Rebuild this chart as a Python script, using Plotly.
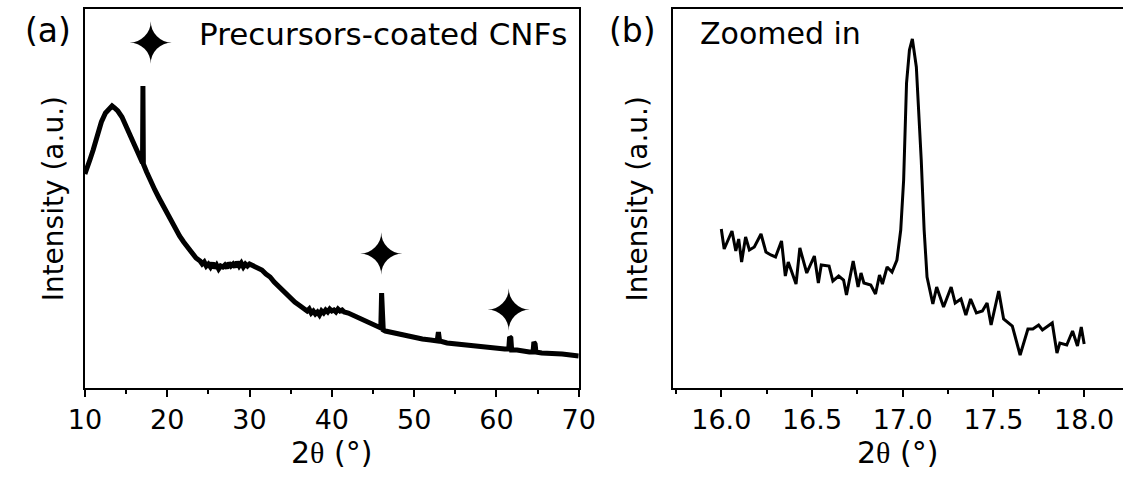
import plotly.graph_objects as go

# ---------------- Panel (a): full XRD pattern ----------------
two_theta_full = [
    10.0, 10.3, 10.6, 11.0, 11.5, 12.0, 12.5, 13.0, 13.3, 13.6, 14.0, 14.5, 15.0, 15.5,
    16.0, 16.5, 16.9, 17.0, 17.05, 17.1, 17.5, 18.0, 18.5, 19.0, 19.5, 20.0, 20.5, 21.0,
    21.5, 22.0, 22.5, 23.0, 23.5, 24.0, 24.25, 24.5, 24.75, 25.0, 25.25, 25.5, 25.75,
    26.0, 26.25, 26.5, 26.75, 27.0, 27.25, 27.5, 27.75, 28.0, 28.25, 28.5, 28.75, 29.0,
    29.25, 29.5, 29.75, 30.0, 30.5, 31.0, 31.5, 32.0, 32.5, 33.0, 33.5, 34.0, 34.5, 35.0,
    35.5, 36.0, 36.5, 37.0, 37.25, 37.5, 37.75, 38.0, 38.25, 38.5, 38.75, 39.0, 39.25,
    39.5, 39.75, 40.0, 40.25, 40.5, 40.75, 41.0, 41.25, 41.5, 42.0, 42.5, 43.0, 43.5,
    44.0, 44.5, 45.0, 45.5, 45.95, 46.05, 46.15, 46.25, 46.5, 47.0,
    47.5, 48.0, 48.5, 49.0, 49.5, 50.0, 51.0, 52.0, 52.8, 52.95, 53.1, 54.0, 55.0, 56.0,
    57.0, 58.0, 59.0, 60.0, 61.0, 61.5, 61.6, 61.75, 61.85, 62.5, 63.0, 64.0, 64.45,
    64.55, 64.7, 64.8, 65.5, 66.0, 67.0, 68.0, 69.0, 70.0,
]
intensity_full = [
    214, 220, 228, 238, 252, 266, 275, 280, 282, 280, 277, 271, 262, 251,
    242, 234, 227, 225, 302, 224, 216, 206, 198, 190, 182, 174, 166, 159,
    152, 146, 140, 135, 130, 127, 124, 126, 122, 124, 121, 125, 120,
    123, 119, 122, 121, 123, 120, 125, 122, 124, 121, 126, 122, 125,
    121, 124, 122, 124, 122, 120, 118, 114, 111, 106, 102, 97, 93, 89,
    86, 83, 80, 77, 79, 75, 77, 74, 76, 73, 77, 75, 78,
    76, 79, 77, 78, 76, 79, 77, 78, 76, 75, 73, 71, 69,
    67, 65, 63, 61, 60, 95, 83, 58, 57, 56,
    55, 54, 53, 52, 51, 50, 49, 48, 47, 56, 47, 45, 44, 43,
    42, 41, 40, 39, 39, 39, 51, 50, 38, 38, 37, 36, 36,
    46, 44, 36, 35, 35, 34, 34, 33, 32,
]

# markers flagging the crystalline reflections
star_x = [18.0, 46.0, 61.5]
star_y = [339, 128, 72]

# ---------------- Panel (b): zoom around 17 degrees ----------------
two_theta_zoom = [
    16.000, 16.016, 16.059, 16.080, 16.096, 16.112, 16.134, 16.155, 16.182, 16.219,
    16.246, 16.273, 16.299, 16.332, 16.353, 16.369, 16.412, 16.433, 16.471, 16.513,
    16.535, 16.551, 16.594, 16.615, 16.647, 16.674, 16.690, 16.727, 16.754, 16.770,
    16.786, 16.824, 16.850, 16.872, 16.888, 16.914, 16.941, 16.968, 16.989, 17.005,
    17.021, 17.037, 17.053, 17.075, 17.102, 17.118, 17.134, 17.166, 17.187, 17.225,
    17.267, 17.289, 17.321, 17.348, 17.374, 17.406, 17.439, 17.465, 17.487, 17.529,
    17.556, 17.604, 17.647, 17.690, 17.717, 17.749, 17.770, 17.824, 17.850, 17.866,
    17.904, 17.936, 17.963, 17.984, 18.000,
]
intensity_zoom = [
    159, 139, 157, 137, 149, 126, 151, 138, 141, 154,
    136, 133, 131, 147, 112, 126, 104, 140, 115, 132,
    105, 123, 122, 107, 112, 108, 93, 127, 101, 115,
    105, 103, 94, 113, 104, 121, 116, 128, 158, 208,
    305, 338, 349, 321, 228, 158, 111, 84, 101, 81,
    101, 85, 89, 73, 89, 75, 77, 85, 63, 97,
    69, 62, 33, 59, 59, 63, 58, 65, 35, 45,
    43, 57, 42, 61, 44,
]

W, H = 1140, 480
FONT = "DejaVu Sans"


def px_x(v):
    return v / W


def px_y(v):
    return 1 - v / H


fig = go.Figure()

fig.add_trace(go.Scatter(
    x=two_theta_full, y=intensity_full, mode="lines",
    line=dict(color="black", width=5), xaxis="x", yaxis="y", showlegend=False,
))
fig.add_trace(go.Scatter(
    x=star_x, y=star_y, mode="text", text=["✦"] * len(star_x),
    textposition="middle center",
    textfont=dict(family=FONT, size=56, color="black"),
    xaxis="x", yaxis="y", showlegend=False,
))
fig.add_trace(go.Scatter(
    x=two_theta_zoom, y=intensity_zoom, mode="lines",
    line=dict(color="black", width=3), xaxis="x2", yaxis="y2", showlegend=False,
))

y_dom = [px_y(388), px_y(9)]
common_x = dict(
    showgrid=False, zeroline=False, showline=True, linecolor="black", linewidth=2,
    ticks="outside", ticklen=7, tickwidth=2, tickcolor="black",
    tickfont=dict(family=FONT, size=27, color="black"),
)
common_y = dict(
    showgrid=False, zeroline=False, showline=True, linecolor="black", linewidth=2,
    showticklabels=False, ticks="", range=[0, 379],
)

fig.update_layout(
    width=W, height=H, margin=dict(l=0, r=0, t=0, b=0),
    paper_bgcolor="white", plot_bgcolor="white",
    xaxis=dict(domain=[px_x(70), px_x(579)], range=[10, 70], tick0=10, dtick=10,
               mirror=True, anchor="y",
               minor=dict(dtick=5, ticks="outside", ticklen=4, tickwidth=2, tickcolor="black"),
               **common_x),
    yaxis=dict(domain=y_dom, mirror=True, anchor="x", **common_y),
    xaxis2=dict(domain=[px_x(676), 1.0], range=[15.733, 18.214], tick0=16, dtick=0.5,
                tickformat=".1f", mirror=True, anchor="y2",
                minor=dict(dtick=0.25, ticks="outside", ticklen=4, tickwidth=2, tickcolor="black"),
                **common_x),
    yaxis2=dict(domain=y_dom, mirror=False, anchor="x2", **common_y),
)

theta_title = '2<span style="font-family:\'Liberation Serif\'">θ</span> (°)'
ann_font = dict(family=FONT, color="black")
annotations = [
    dict(text="(a)", x=px_x(32), y=px_y(31), font=dict(size=33, **ann_font)),
    dict(text="(b)", x=px_x(634), y=px_y(31), font=dict(size=33, **ann_font)),
    dict(text="Precursors-coated CNFs", x=px_x(186), y=px_y(34), xanchor="left",
         font=dict(size=31, **ann_font)),
    dict(text="Zoomed in", x=px_x(702), y=px_y(34), xanchor="left",
         font=dict(size=30, **ann_font)),
    dict(text="Intensity (a.u.)", x=px_x(38), y=px_y(198.5), textangle=-90,
         font=dict(size=28, **ann_font)),
    dict(text="Intensity (a.u.)", x=px_x(640), y=px_y(198.5), textangle=-90,
         font=dict(size=28, **ann_font)),
    dict(text=theta_title, x=px_x(324.5), y=px_y(452), font=dict(size=30, **ann_font)),
    dict(text=theta_title, x=px_x(908), y=px_y(452), font=dict(size=30, **ann_font)),
]
for a in annotations:
    a.setdefault("xanchor", "center")
    a.update(xref="paper", yref="paper", yanchor="middle", showarrow=False)
fig.update_layout(annotations=annotations)

fig.write_html("out.html")
